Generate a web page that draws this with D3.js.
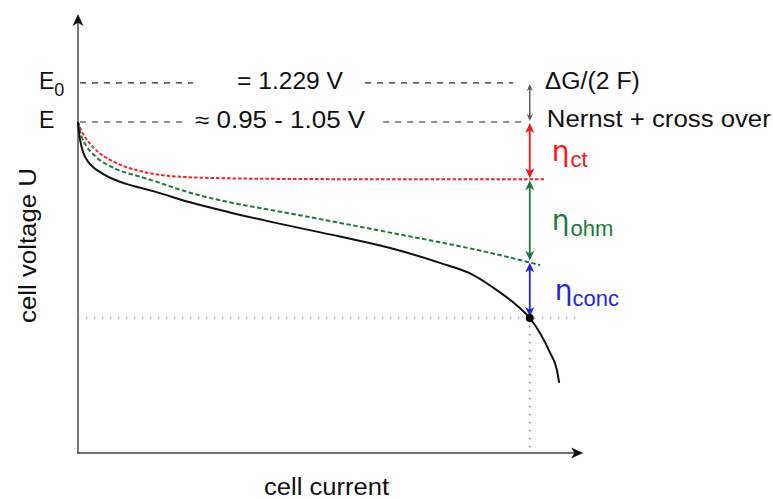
<!DOCTYPE html>
<html>
<head>
<meta charset="utf-8">
<script src="https://cdn.jsdelivr.net/npm/d3@7"></script>
<style>
  html, body { margin: 0; padding: 0; background: #fff; }
  svg { display: block; }
  text { font-family: "Liberation Sans", Arial, Helvetica, sans-serif; }
</style>
</head>
<body>
<svg id="chart" width="773" height="499"></svg>
<script>
// ---------- data (normalised current / normalised cell voltage) ----------
const axisCurrentMax = 1.118;
const axisVoltageMax = 1.0;

const levelNames  = ["E", "E"];
const levelSubs   = ["0", ""];
const levelValues = [0.843, 0.754];
const levelTexts  = ["= 1.229 V", "\u2248 0.95 - 1.05 V"];
const levelDashEnd = [0.963, 0.989];
const levelGapFrom = [0.2545, 0.237];
const levelGapTo   = [0.631, 0.671];

// polarisation curve (black)
const cellI = [0.000, 0.003, 0.008, 0.013, 0.022, 0.035, 0.055, 0.080, 0.110, 0.139, 0.168, 0.248, 0.336, 0.425, 0.580, 0.691, 0.801, 0.874, 0.934, 0.967, 1.000, 1.023, 1.045, 1.060, 1.065];
const cellU = [0.754, 0.724, 0.697, 0.681, 0.664, 0.650, 0.636, 0.623, 0.612, 0.604, 0.596, 0.571, 0.548, 0.527, 0.493, 0.467, 0.433, 0.406, 0.366, 0.340, 0.3075, 0.273, 0.228, 0.189, 0.160];

// activation-only curve (red dashed)
const ctI = [0.000, 0.004, 0.013, 0.035, 0.080, 0.139, 0.204, 0.315, 0.514, 0.750, 1.036];
const ctU = [0.754, 0.742, 0.724, 0.695, 0.663, 0.642, 0.631, 0.626, 0.624, 0.6235, 0.6235];

// activation + ohmic curve (green dashed)
const ohmI = [0.000, 0.003, 0.009, 0.020, 0.035, 0.080, 0.139, 0.164, 0.248, 0.336, 0.425, 0.514, 0.691, 0.912, 1.023];
const ohmU = [0.754, 0.738, 0.718, 0.697, 0.679, 0.649, 0.629, 0.621, 0.593, 0.571, 0.554, 0.537, 0.502, 0.456, 0.428];

// operating point
const opI = 1.0;
const opU = 0.3075;

// loss arrows at the operating current
const lossFrom   = [0.843, 0.754, 0.6235, 0.436];
const lossTo     = [0.754, 0.6235, 0.436, 0.3075];
const lossMain   = ["\u0394G/(2 F)", "Nernst + cross over", "\u03b7", "\u03b7", "\u03b7"];
const lossSub    = ["", "", "ct", "ohm", "conc"];
const lossColors = ["#555555", "#ff1414", "#1d7a3e", "#2424e6"];

const xLabel = "cell current";
const yLabel = "cell voltage U";

// ---------- drawing ----------
const svg = d3.select("#chart");
const x = d3.scaleLinear().domain([0, 1.12]).range([78, 584]);
const y = d3.scaleLinear().domain([0, 1]).range([453, 14]);

function head(px, py, angle, L, W, color) {
  const p = d3.path();
  p.moveTo(0, 0);
  p.lineTo(-L, -W / 2);
  p.lineTo(-L * 0.72, 0);
  p.lineTo(-L, W / 2);
  p.closePath();
  svg.append("path").attr("d", p.toString())
    .attr("fill", color)
    .attr("transform", `translate(${px},${py}) rotate(${angle})`);
}

// dotted guides to the operating point
svg.append("line")
  .attr("x1", x(0)).attr("x2", x(1.111))
  .attr("y1", y(opU)).attr("y2", y(opU))
  .attr("stroke", "#666").attr("stroke-width", 1.2)
  .attr("stroke-dasharray", "1.2,6.8");
svg.append("line")
  .attr("x1", x(opI)).attr("x2", x(opI))
  .attr("y1", y(opU)).attr("y2", y(0))
  .attr("stroke", "#555").attr("stroke-width", 1.2)
  .attr("stroke-dasharray", "1.2,6.8");

// axes
svg.append("line")
  .attr("x1", x(0)).attr("x2", x(0))
  .attr("y1", y(0)).attr("y2", y(axisVoltageMax) + 6)
  .attr("stroke", "#7a7a7a").attr("stroke-width", 2);
svg.append("line")
  .attr("x1", x(0) - 1).attr("x2", x(axisCurrentMax) - 6)
  .attr("y1", y(0)).attr("y2", y(0))
  .attr("stroke", "#444").attr("stroke-width", 1.6);
head(x(0), y(axisVoltageMax), -90, 12, 11, "#111");
head(x(axisCurrentMax), y(0), 0, 12, 11, "#111");

// level lines E0 and E
levelValues.forEach((v, i) => {
  [[0, levelGapFrom[i]], [levelGapTo[i], levelDashEnd[i]]].forEach(seg => {
    svg.append("line")
      .attr("x1", x(seg[0]) + 2).attr("x2", x(seg[1]))
      .attr("y1", y(v)).attr("y2", y(v))
      .attr("stroke", "#222").attr("stroke-width", 1.1)
      .attr("stroke-dasharray", "6,6");
  });
  const t = svg.append("text")
    .attr("x", 39).attr("y", y(v) + 6)
    .attr("font-size", 23).attr("fill", "#111");
  t.append("tspan").text(levelNames[i]);
  if (levelSubs[i]) {
    t.append("tspan").attr("font-size", 18).attr("dy", 7).text(levelSubs[i]);
  }
});
svg.append("text")
  .attr("x", (x(levelGapFrom[0]) + x(levelGapTo[0])) / 2 + 12)
  .attr("y", y(levelValues[0]) + 6)
  .attr("text-anchor", "middle")
  .attr("font-size", 23).attr("fill", "#111")
  .attr("textLength", 106).attr("lengthAdjust", "spacingAndGlyphs")
  .text(levelTexts[0]);
svg.append("text")
  .attr("x", (x(levelGapFrom[1]) + x(levelGapTo[1])) / 2 - 3)
  .attr("y", y(levelValues[1]) + 6)
  .attr("text-anchor", "middle")
  .attr("font-size", 23).attr("fill", "#111")
  .attr("textLength", 170).attr("lengthAdjust", "spacingAndGlyphs")
  .text(levelTexts[1]);

// curves
const line = d3.line().x(d => x(d[0])).y(d => y(d[1])).curve(d3.curveMonotoneX);
svg.append("path")
  .attr("d", line(ctI.map((v, i) => [v, ctU[i]])))
  .attr("fill", "none").attr("stroke", "#ff2020").attr("stroke-width", 2)
  .attr("stroke-dasharray", "3.5,2");
svg.append("path")
  .attr("d", line(ohmI.map((v, i) => [v, ohmU[i]])))
  .attr("fill", "none").attr("stroke", "#1d7a3e").attr("stroke-width", 2)
  .attr("stroke-dasharray", "4.5,2.5");
svg.append("path")
  .attr("d", line(cellI.map((v, i) => [v, cellU[i]])))
  .attr("fill", "none").attr("stroke", "#111").attr("stroke-width", 2);

// loss arrows
lossFrom.forEach((f, i) => {
  const small = i === 0;
  const L = small ? 7 : 10, W = small ? 6 : 9;
  const xa = x(opI);
  const y1 = y(f) + 1, y2 = y(lossTo[i]) - 1;
  svg.append("line")
    .attr("x1", xa).attr("x2", xa)
    .attr("y1", y1 + L * 0.6).attr("y2", y2 - L * 0.6)
    .attr("stroke", lossColors[i]).attr("stroke-width", small ? 1.4 : 1.8);
  head(xa, y1, -90, L, W, lossColors[i]);
  head(xa, y2, 90, L, W, lossColors[i]);
});

// operating point
svg.append("circle").attr("cx", x(opI)).attr("cy", y(opU)).attr("r", 4).attr("fill", "#000");

// right-hand labels
svg.append("text")
  .attr("x", x(opI) + 15).attr("y", y(lossFrom[0]) + 6)
  .attr("font-size", 23).attr("fill", "#111")
  .attr("textLength", 95).attr("lengthAdjust", "spacingAndGlyphs")
  .text(lossMain[0]);
svg.append("text")
  .attr("x", x(opI) + 17).attr("y", y(lossFrom[1]) + 5)
  .attr("font-size", 23).attr("fill", "#111")
  .attr("textLength", 224).attr("lengthAdjust", "spacingAndGlyphs")
  .text(lossMain[1]);

const subDx = [1, 1, 0];
[1, 2, 3].forEach((k, j) => {
  const yc = (y(lossFrom[k]) + y(lossTo[k])) / 2;
  const t = svg.append("text")
    .attr("x", x(opI) + 22 + (k === 3 ? 3 : 0))
    .attr("y", yc + 10)
    .attr("font-size", 28).attr("fill", lossColors[k])
    .style("font-family", "'DejaVu Sans', sans-serif");
  t.append("tspan").text(lossMain[k + 1]);
  t.append("tspan")
    .attr("dx", subDx[j])
    .attr("dy", 6)
    .attr("font-size", 22)
    .style("font-family", "'Liberation Sans', Arial, sans-serif")
    .text(lossSub[k + 1]);
});

// axis titles
svg.append("text")
  .attr("x", (x(0) + x(axisCurrentMax)) / 2 - 4)
  .attr("y", 495)
  .attr("text-anchor", "middle")
  .attr("font-size", 23).attr("fill", "#111")
  .attr("textLength", 125).attr("lengthAdjust", "spacingAndGlyphs")
  .text(xLabel);
svg.append("text")
  .attr("transform", `translate(36,${(y(0) + y(axisVoltageMax)) / 2 + 12}) rotate(-90)`)
  .attr("text-anchor", "middle")
  .attr("font-size", 23).attr("fill", "#111")
  .attr("textLength", 155).attr("lengthAdjust", "spacingAndGlyphs")
  .text(yLabel);
</script>
</body>
</html>
